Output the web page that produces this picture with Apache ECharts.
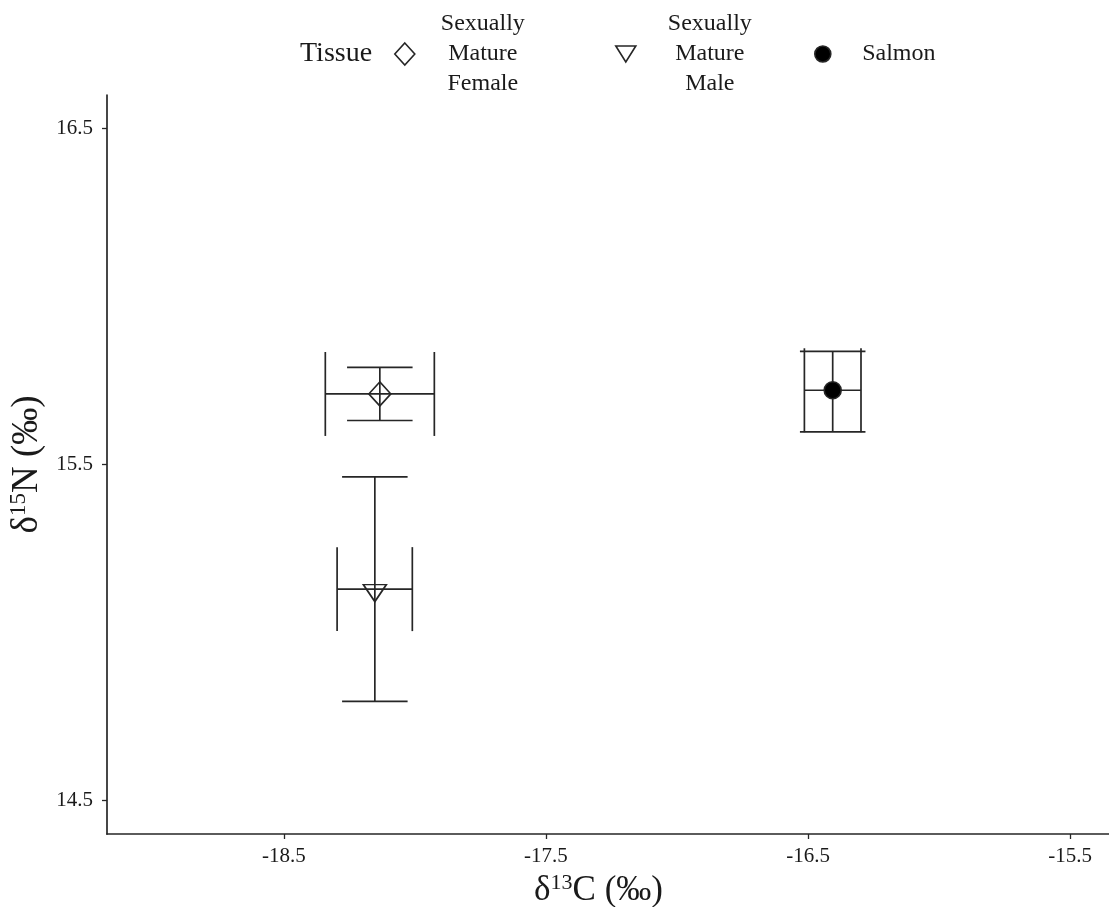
<!DOCTYPE html>
<html><head><meta charset="utf-8">
<script src="https://cdn.jsdelivr.net/npm/echarts@6/dist/echarts.min.js"></script>
<style>html,body{margin:0;padding:0;background:#fff}#c{width:1109px;height:907px}</style>
</head><body><div id="c"></div>
<script>
// ---- data ----
const categories = ['Sexually Mature Female', 'Sexually Mature Male', 'Salmon'];
const d13C    = [-18.134, -18.153, -16.406];
const d13C_lo = [-18.342, -18.297, -16.514];
const d13C_hi = [-17.926, -18.010, -16.298];
const d15N    = [15.710, 15.129, 15.721];
const d15N_lo = [15.631, 14.795, 15.597];
const d15N_hi = [15.789, 15.463, 15.837];
const xTicks = [-18.5, -17.5, -16.5, -15.5];
const yTicks = [14.5, 15.5, 16.5];
const legendTitle = 'Tissue';

// ---- styles ----
const FONT = '"Liberation Serif","Times New Roman",serif';
const INK = '#262626';
const CAP_X = 0.125; // half-width of vertical error bar caps (x units)
const CAP_Y = 0.125; // half-height of horizontal error bar caps (y units)

const symbols = [
  {symbol: 'diamond', icon: 'diamond', size: [22, 24], rotate: 0, offset: [0, 0], fill: 'rgba(0,0,0,0)', lsize: [20, 22]},
  {symbol: 'triangle', icon: 'path://M0,0 L20,0 L10,16 Z', size: [23, 17], rotate: 180, offset: [0, 4], fill: 'rgba(0,0,0,0)', lsize: [20, 16]},
  {symbol: 'circle', icon: 'circle', size: 17, rotate: 0, offset: [0, 0], fill: '#000', lsize: [16, 16]}
];

const errRows = categories.map((c, i) => [d13C[i], d15N[i], d13C_lo[i], d13C_hi[i], d15N_lo[i], d15N_hi[i]]);

function renderErr(params, api) {
  const x = api.value(0), y = api.value(1);
  const xl = api.value(2), xh = api.value(3), yl = api.value(4), yh = api.value(5);
  const seg = (a, b) => {
    const p1 = api.coord(a), p2 = api.coord(b);
    return {type: 'line', shape: {x1: p1[0], y1: p1[1], x2: p2[0], y2: p2[1]},
      style: {stroke: INK, lineWidth: 1.7}};
  };
  return {type: 'group', children: [
    seg([x, yl], [x, yh]),
    seg([x - CAP_X, yl], [x + CAP_X, yl]),
    seg([x - CAP_X, yh], [x + CAP_X, yh]),
    seg([xl, y], [xh, y]),
    seg([xl, y - CAP_Y], [xl, y + CAP_Y]),
    seg([xh, y - CAP_Y], [xh, y + CAP_Y])
  ]};
}

const series = [{
  type: 'custom', name: '_err', renderItem: renderErr, data: errRows,
  encode: {x: [0, 2, 3], y: [1, 4, 5]}, silent: true, z: 1
}];
categories.forEach((c, i) => {
  const s = symbols[i];
  series.push({
    type: 'scatter', name: c, data: [[d13C[i], d15N[i]]],
    symbol: s.symbol, symbolSize: s.size, symbolRotate: s.rotate, symbolOffset: s.offset,
    itemStyle: {color: s.fill, borderColor: INK, borderWidth: 1.6, opacity: 1},
    z: 3
  });
});

const legendPos = [
  {left: 389, top: 7, w: 126},
  {left: 610, top: 7, w: 138},
  {left: 809, top: 37, w: 126}
];
const legends = categories.map((c, i) => ({
  data: [{name: c, icon: symbols[i].icon,
    itemStyle: {color: symbols[i].fill, borderColor: INK, borderWidth: 1.6}}],
  left: legendPos[i].left, top: legendPos[i].top, orient: 'horizontal',
  itemWidth: symbols[i].lsize[0], itemHeight: symbols[i].lsize[1],
  symbolRotate: 0,
  selectedMode: false,
  formatter: n => '{t|' + n.split(' ').join('\n') + '}',
  textStyle: {rich: {t: {fontFamily: FONT, fontSize: 24, lineHeight: 30, color: '#1a1a1a', width: legendPos[i].w, align: 'center'}}}
}));

const chart = echarts.init(document.getElementById('c'), null, {renderer: 'canvas'});
chart.setOption({
  backgroundColor: '#fff',
  animation: false,
  title: {text: legendTitle, left: 295, top: 35,
    textStyle: {fontFamily: FONT, fontSize: 28, fontWeight: 'normal', color: '#1a1a1a'}},
  legend: legends,
  grid: {left: 107, top: 95, width: 1009, height: 739, containLabel: false, outerBoundsMode: 'none'},
  xAxis: {
    type: 'value', min: -19.175, max: -15.325,
    name: '{a|δ}{s|13}{a|C (‰)}', nameLocation: 'middle', nameGap: 30,
    nameTextStyle: {padding: [0, 26, 0, 0], rich: {
      a: {fontFamily: FONT, fontSize: 35, color: '#1a1a1a'},
      s: {fontFamily: FONT, fontSize: 22, color: '#1a1a1a', padding: [0, 0, 16, 0]}
    }},
    axisLine: {onZero: false, lineStyle: {color: INK, width: 1.7}},
    axisTick: {customValues: xTicks, length: 5, lineStyle: {color: INK, width: 1.3}},
    axisLabel: {customValues: xTicks, formatter: v => v.toFixed(1), margin: 12,
      fontFamily: FONT, fontSize: 21, color: '#1a1a1a'},
    splitLine: {show: false}
  },
  yAxis: {
    type: 'value', min: 14.4, max: 16.6,
    name: '{a|δ}{s|15}{a|N (‰)}', nameLocation: 'middle', nameGap: 60, nameRotate: 90,
    nameTextStyle: {rich: {
      a: {fontFamily: FONT, fontSize: 37, color: '#1a1a1a'},
      s: {fontFamily: FONT, fontSize: 23, color: '#1a1a1a', padding: [0, 0, 16, 0]}
    }},
    axisLine: {onZero: false, lineStyle: {color: INK, width: 1.7}},
    axisTick: {customValues: yTicks, length: 5, lineStyle: {color: INK, width: 1.3}},
    axisLabel: {customValues: yTicks, formatter: v => v.toFixed(1), margin: 14,
      fontFamily: FONT, fontSize: 21, color: '#1a1a1a', padding: [6, 0, 0, 0]},
    splitLine: {show: false}
  },
  series: series
});
</script></body></html>
